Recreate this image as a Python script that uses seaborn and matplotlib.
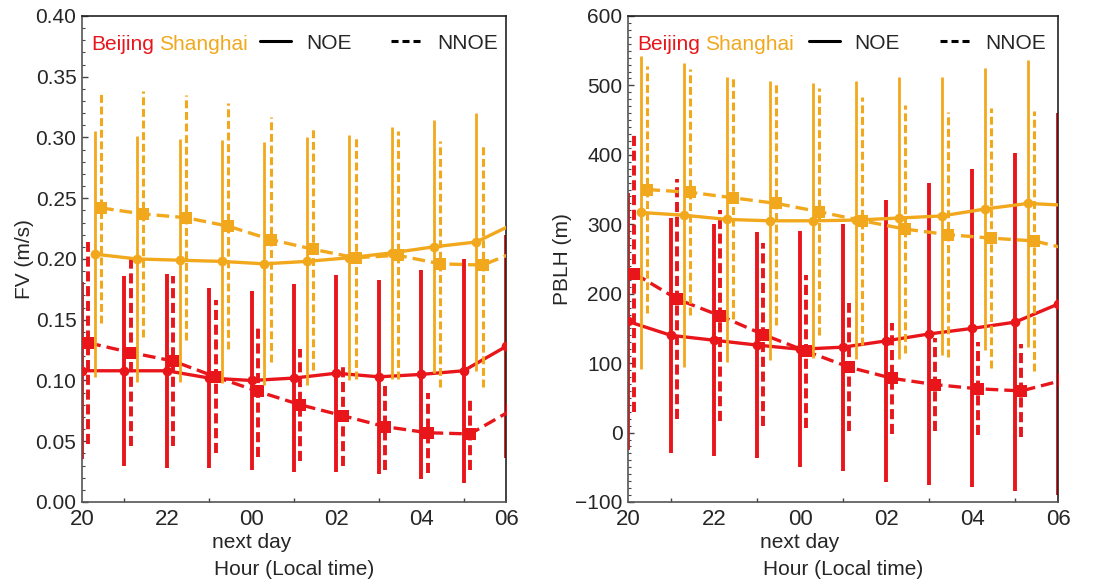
import numpy as np
import pandas as pd
import seaborn as sns
import matplotlib.pyplot as plt
from matplotlib.lines import Line2D
from matplotlib.ticker import MultipleLocator, FixedLocator
import matplotlib.transforms as mtransforms

# hours after 20:00 local time (0 -> 20, 10 -> 06 next day)
hours = np.arange(11)
tick_hours = [0, 2, 4, 6, 8, 10]
tick_labels = ['20', '22', '00', '02', '04', '06']

# friction velocity FV (m/s): mean and std
bj_noe_fv = [0.108, 0.108, 0.108, 0.102, 0.100, 0.102, 0.106, 0.103, 0.105, 0.108, 0.128]
bj_noe_fv_sd = [0.073, 0.078, 0.080, 0.074, 0.074, 0.077, 0.081, 0.080, 0.086, 0.092, 0.092]
bj_nnoe_fv = [0.131, 0.123, 0.116, 0.103, 0.091, 0.080, 0.071, 0.062, 0.057, 0.056, 0.076]
bj_nnoe_fv_sd = [0.083, 0.077, 0.070, 0.063, 0.054, 0.046, 0.041, 0.036, 0.033, 0.030, 0.030]
sh_noe_fv = [0.204, 0.200, 0.199, 0.198, 0.196, 0.198, 0.201, 0.205, 0.210, 0.214, 0.231]
sh_noe_fv_sd = [0.101, 0.101, 0.100, 0.100, 0.100, 0.102, 0.101, 0.104, 0.104, 0.106, 0.106]
sh_nnoe_fv = [0.242, 0.237, 0.234, 0.227, 0.216, 0.208, 0.201, 0.203, 0.196, 0.195, 0.209]
sh_nnoe_fv_sd = [0.095, 0.101, 0.101, 0.101, 0.101, 0.099, 0.100, 0.102, 0.101, 0.100, 0.100]

# planetary boundary layer height PBLH (m): mean and std
bj_noe_pblh = [160, 140, 133, 126, 120, 123, 132, 142, 150, 159, 185]
bj_noe_pblh_sd = [185, 169, 167, 163, 170, 178, 203, 218, 229, 243, 275]
bj_nnoe_pblh = [229, 192, 168, 141, 117, 94, 78, 69, 63, 60, 76]
bj_nnoe_pblh_sd = [200, 173, 152, 132, 110, 92, 80, 67, 67, 67, 67]
sh_noe_pblh = [317, 313, 307, 305, 305, 306, 309, 312, 322, 330, 327]
sh_noe_pblh_sd = [226, 219, 205, 201, 198, 200, 203, 200, 203, 207, 207]
sh_nnoe_pblh = [350, 346, 338, 330, 318, 305, 293, 285, 280, 276, 261]
sh_nnoe_pblh_sd = [178, 177, 175, 175, 178, 179, 179, 176, 187, 187, 187]

RED = '#e8161b'
ORANGE = '#f2a81d'
FONT = ['Liberation Sans', 'DejaVu Sans']

sns.set_style('ticks')
plt.rcParams['font.family'] = FONT
plt.rcParams['axes.unicode_minus'] = True

# style per (city, scenario): colour, x offset, marker, marker size, bar width
styles = {
    ('Beijing', 'NOE'): dict(color=RED, off=0.0, marker='o', ms=7, bw=2.8, z=2),
    ('Beijing', 'NNOE'): dict(color=RED, off=0.15, marker='s', ms=8.5, bw=2.8, z=2),
    ('Shanghai', 'NOE'): dict(color=ORANGE, off=0.30, marker='o', ms=7, bw=2.0, z=4),
    ('Shanghai', 'NNOE'): dict(color=ORANGE, off=0.45, marker='s', ms=8.5, bw=2.2, z=4),
}


def draw_panel(ax, series, ylim, ymaj, ymin, ylabel, fmt, labelpad):
    for (city, scen), (mean, sd) in series.items():
        st = styles[(city, scen)]
        df = pd.DataFrame({'x': hours + st['off'], 'v': mean, 'sd': sd})
        eb = ax.errorbar(df['x'], df['v'], yerr=df['sd'], fmt='none',
                         ecolor=st['color'], elinewidth=st['bw'], capsize=0,
                         zorder=st['z'])
        kw = dict(color=st['color'], lw=2.4, marker=st['marker'],
                  markersize=st['ms'], markeredgewidth=0, zorder=st['z'] + 1)
        if scen == 'NNOE':
            eb[2][0].set_linestyle((0, (2.6, 1.2)))
            kw['dashes'] = (3.8, 1.8)
        sns.lineplot(data=df, x='x', y='v', ax=ax, estimator=None, sort=False, **kw)

    ax.set_xlim(0, 10)
    ax.set_ylim(*ylim)
    ax.xaxis.set_major_locator(FixedLocator(tick_hours))
    ax.set_xticklabels(tick_labels)
    ax.xaxis.set_minor_locator(FixedLocator([1, 3, 5, 7, 9]))
    ax.yaxis.set_major_locator(MultipleLocator(ymaj))
    ax.yaxis.set_minor_locator(MultipleLocator(ymin))
    ax.yaxis.set_major_formatter(fmt)
    ax.tick_params(axis='x', which='major', length=0, labelsize=16, pad=5)
    ax.tick_params(axis='x', which='minor', direction='in', length=3, width=1, color='#444444')
    ax.tick_params(axis='y', which='major', direction='in', length=4, width=1,
                   labelsize=15, pad=4, color='#444444')
    ax.tick_params(axis='y', which='minor', direction='in', length=2.5, width=0.8, color='#444444')
    for side in ['left', 'bottom']:
        ax.spines[side].set_color('#555555')
        ax.spines[side].set_linewidth(1.2)
    for side in ['top', 'right']:
        ax.spines[side].set_color('#222222')
        ax.spines[side].set_linewidth(1.2)

    ax.set_xlabel('Hour (Local time)', fontsize=15, labelpad=22)
    ax.set_ylabel(ylabel, fontsize=15, labelpad=labelpad)
    trans = mtransforms.blended_transform_factory(ax.transData, ax.transAxes)
    ax.text(4, -0.084, 'next day', transform=trans, ha='center', va='center', fontsize=15)

    # legend: city names in colour, line styles in black
    t1 = ax.text(0.021, 0.930, 'Beijing', color=RED, fontsize=15,
                 transform=ax.transAxes, va='baseline', ha='left')
    ax.annotate('Shanghai', xy=(1, 0), xycoords=t1, xytext=(4, 0),
                textcoords='offset points', color=ORANGE, fontsize=15,
                va='bottom', ha='left')
    handles = [Line2D([], [], color='black', lw=2.2),
               Line2D([], [], color='black', lw=2.2, dashes=(2.3, 1.3))]
    ax.legend(handles, ['NOE', 'NNOE'], ncol=2, loc='center left',
              bbox_to_anchor=(0.42, 0.944), frameon=False, borderpad=0,
              borderaxespad=0, handlelength=1.5, handletextpad=0.7,
              columnspacing=1.9, fontsize=15)


fig = plt.figure(figsize=(11.02, 5.85), dpi=100)
ax1 = fig.add_axes([0.0744, 0.1419, 0.3848, 0.8308])
ax2 = fig.add_axes([0.5699, 0.1419, 0.3902, 0.8308])

draw_panel(ax1, {
    ('Beijing', 'NOE'): (bj_noe_fv, bj_noe_fv_sd),
    ('Beijing', 'NNOE'): (bj_nnoe_fv, bj_nnoe_fv_sd),
    ('Shanghai', 'NOE'): (sh_noe_fv, sh_noe_fv_sd),
    ('Shanghai', 'NNOE'): (sh_nnoe_fv, sh_nnoe_fv_sd),
}, (0, 0.4), 0.05, 0.01, 'FV (m/s)', '{x:.2f}', 1)

draw_panel(ax2, {
    ('Beijing', 'NOE'): (bj_noe_pblh, bj_noe_pblh_sd),
    ('Beijing', 'NNOE'): (bj_nnoe_pblh, bj_nnoe_pblh_sd),
    ('Shanghai', 'NOE'): (sh_noe_pblh, sh_noe_pblh_sd),
    ('Shanghai', 'NNOE'): (sh_nnoe_pblh, sh_nnoe_pblh_sd),
}, (-100, 600), 100, 10, 'PBLH (m)', '{x:.0f}', 2)

fig.savefig('out.png', dpi=100)
